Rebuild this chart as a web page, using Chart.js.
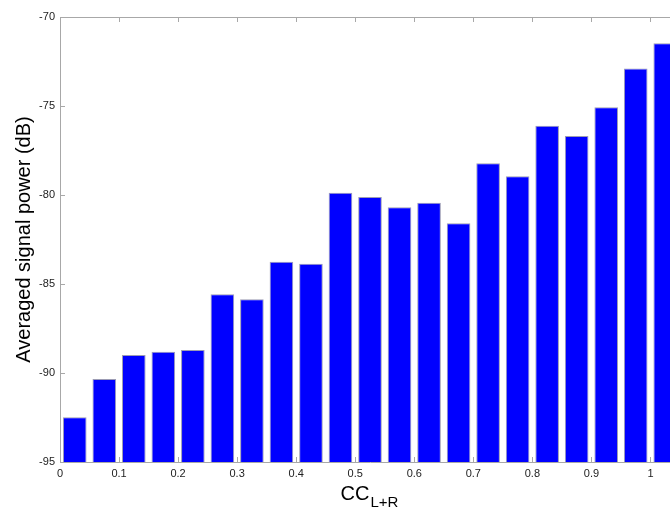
<!DOCTYPE html>
<html>
<head>
<meta charset="utf-8">
<script src="https://cdn.jsdelivr.net/npm/chart.js@4"></script>
<style>
  html, body { margin:0; padding:0; background:#fff; overflow:hidden; }
  #wrap { width:700px; height:508px; }
</style>
</head>
<body>
<div id="wrap"><canvas id="powerChart" width="700" height="508"></canvas></div>
<script>
// bar centres on the CC axis and averaged power per bin (dB)
const ccCenters = [0.025, 0.075, 0.125, 0.175, 0.225, 0.275, 0.325, 0.375, 0.425, 0.475,
                   0.525, 0.575, 0.625, 0.675, 0.725, 0.775, 0.825, 0.875, 0.925, 0.975, 1.025];
const powerDb = [-92.49, -90.34, -88.99, -88.80, -88.71, -85.58, -85.86, -83.75, -83.86, -79.87,
                 -80.11, -80.69, -80.43, -81.59, -78.22, -78.95, -76.11, -76.69, -75.07, -72.90, -71.48];
const xTickLabels = ['0', '0.1', '0.2', '0.3', '0.4', '0.5', '0.6', '0.7', '0.8', '0.9', '1'];
const yTickLabels = ['-95', '-90', '-85', '-80', '-75', '-70'];

const axisGrey = '#a8a8a8';
const tickFont = { family: 'Arial, "Liberation Sans", sans-serif', size: 11 };

// MATLAB-ish frame: top line + inward tick marks on all sides
const frameTicks = {
  id: 'frameTicks',
  afterDraw(chart){
    const {ctx, chartArea:a, scales:{x, y}} = chart;
    ctx.save();
    ctx.strokeStyle = axisGrey;
    ctx.lineWidth = 1;
    ctx.beginPath();
    ctx.moveTo(a.left, a.top + 0.5); ctx.lineTo(a.right, a.top + 0.5);
    ctx.moveTo(a.right - 0.5, a.top); ctx.lineTo(a.right - 0.5, a.bottom);
    x.ticks.forEach(t => {
      const px = Math.round(x.getPixelForValue(t.value)) + 0.5;
      ctx.moveTo(px, a.bottom); ctx.lineTo(px, a.bottom - 5);
      ctx.moveTo(px, a.top); ctx.lineTo(px, a.top + 5);
    });
    y.ticks.forEach(t => {
      const py = Math.round(y.getPixelForValue(t.value)) + 0.5;
      ctx.moveTo(a.left, py); ctx.lineTo(a.left + 5, py);
      ctx.moveTo(a.right, py); ctx.lineTo(a.right - 5, py);
    });
    ctx.stroke();

    // x-axis label with subscript
    ctx.fillStyle = '#000';
    ctx.textBaseline = 'alphabetic';
    ctx.textAlign = 'left';
    const big = '20px Arial, "Liberation Sans", sans-serif';
    const small = '15px Arial, "Liberation Sans", sans-serif';
    ctx.font = big;
    const w1 = ctx.measureText('CC').width;
    ctx.font = small;
    const w2 = ctx.measureText('L+R').width;
    const cx = 369;
    const x0 = cx - (w1 + w2) / 2;
    ctx.font = big;
    ctx.fillText('CC', x0, 500);
    ctx.font = small;
    ctx.fillText('L+R', x0 + w1 + 1, 507);
    ctx.restore();
  }
};

new Chart(document.getElementById('powerChart').getContext('2d'), {
  type: 'bar',
  data: {
    datasets: [{
      label: 'Averaged signal power',
      data: ccCenters.map((c, i) => ({ x: c, y: powerDb[i] })),
      base: -95,
      backgroundColor: '#0000ff',
      borderColor: '#9c9cb4',
      borderWidth: 1,
      borderSkipped: 'bottom',
      barPercentage: 0.8,
      categoryPercentage: 1.0
    }]
  },
  options: {
    responsive: false,
    animation: false,
    layout: { padding: { left: 0, right: 20, top: 17, bottom: 0 } },
    plugins: { legend: { display: false }, tooltip: { enabled: false } },
    scales: {
      x: {
        type: 'linear', offset: false,
        min: 0, max: 1.05,
        grid: { display: false, drawTicks: false },
        border: { display: true, color: axisGrey },
        ticks: {
          stepSize: 0.1, includeBounds: false, autoSkip: false, maxRotation: 0,
          padding: 5, color: '#222', font: tickFont,
          callback: v => xTickLabels[Math.round(v * 10)] ?? ''
        },
        afterFit: s => { s.height = 46; }
      },
      y: {
        min: -95, max: -70,
        grid: { display: false, drawTicks: false },
        border: { display: true, color: axisGrey },
        ticks: {
          stepSize: 5, padding: 5, color: '#222', font: tickFont,
          callback: v => yTickLabels[Math.round((v + 95) / 5)] ?? ''
        },
        title: {
          display: true, text: 'Averaged signal power (dB)', color: '#000',
          font: { family: 'Arial, "Liberation Sans", sans-serif', size: 20 },
          padding: { top: 12, bottom: 0 }
        },
        afterFit: s => { s.width = 60; }
      }
    }
  },
  plugins: [frameTicks]
});
</script>
</body>
</html>
